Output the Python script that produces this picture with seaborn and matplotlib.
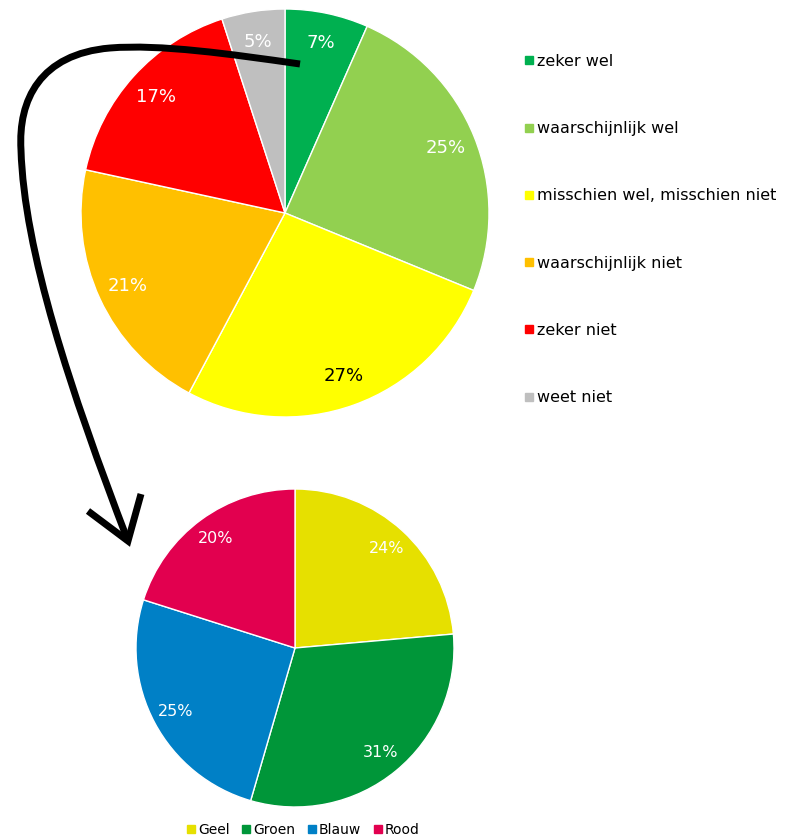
import matplotlib
matplotlib.use("Agg")
import matplotlib.pyplot as plt
from matplotlib.lines import Line2D
from matplotlib.path import Path
from matplotlib.patches import PathPatch
import seaborn as sns

# data: top pie (answers), bottom pie (colours)
answer_labels = ["zeker wel", "waarschijnlijk wel", "misschien wel, misschien niet",
                 "waarschijnlijk niet", "zeker niet", "weet niet"]
answer_values = [6.6, 24.6, 26.6, 20.6, 16.6, 5.0]
answer_colors = ["#00B050", "#92D050", "#FFFF00", "#FFC000", "#FF0000", "#BFBFBF"]

colour_labels = ["Geel", "Groen", "Blauw", "Rood"]
colour_values = [23.6, 30.9, 25.4, 20.1]
colour_colors = ["#E6E000", "#009639", "#0080C6", "#E2004F"]

sns.set_style("white")
plt.rcParams["font.family"] = ["DejaVu Sans"]
plt.rcParams["text.color"] = "black"

W, H = 787, 840
fig = plt.figure(figsize=(W / 100, H / 100), dpi=100)


def pie_axes(cx, cy, r):
    return fig.add_axes([(cx - r) / W, (H - cy - r) / H, 2 * r / W, 2 * r / H])


def draw_pie(ax, values, colors, fontsize, dist, dark=()):
    wedges, _, texts = ax.pie(values, colors=colors, startangle=90, counterclock=False,
                              autopct=lambda p: "{:.0f}%".format(p), pctdistance=dist,
                              wedgeprops=dict(edgecolor="white", linewidth=1),
                              textprops=dict(color="white", fontsize=fontsize))
    for i in dark:
        texts[i].set_color("black")
    ax.set_xlim(-1, 1)
    ax.set_ylim(-1, 1)
    ax.set_axis_off()
    return wedges


# top pie
ax1 = pie_axes(285, 213, 204)
draw_pie(ax1, answer_values, answer_colors, 13, 0.85, dark=(2,))

handles = [Line2D([], [], marker="s", linestyle="", color=c, markersize=6) for c in answer_colors]
fig.legend(handles, answer_labels, loc="upper left", bbox_to_anchor=(516 / W, 1 - 46 / H),
           frameon=False, fontsize=11.5, labelspacing=3.27, handlelength=0.6,
           handletextpad=0.2, borderpad=0, labelcolor="black")

# bottom pie
ax2 = pie_axes(295, 648, 159)
draw_pie(ax2, colour_values, colour_colors, 11.5, 0.85)

handles2 = [Line2D([], [], marker="s", linestyle="", color=c, markersize=5.5) for c in colour_colors]
fig.legend(handles2, colour_labels, loc="center", bbox_to_anchor=(303 / W, 1 - 830 / H),
           ncol=4, frameon=False, fontsize=10, handlelength=0.6, handletextpad=0.2,
           columnspacing=0.9, borderpad=0, labelcolor="black")

# hand-drawn arrow overlay (pixel coordinates)
over = fig.add_axes([0, 0, 1, 1], zorder=5)
over.set_xlim(0, W)
over.set_ylim(H, 0)
over.set_axis_off()
over.patch.set_alpha(0)
verts = [(300, 64),
         (230, 54), (160, 44), (110, 48),
         (40, 54), (18, 100), (21, 150),
         (24, 250), (70, 390), (128, 541)]
codes = [Path.MOVETO] + [Path.CURVE4] * 9
over.add_patch(PathPatch(Path(verts, codes), facecolor="none", edgecolor="black",
                         linewidth=5, capstyle="butt"))
over.plot([88, 128, 141], [511, 541, 494], color="black", linewidth=5,
          solid_joinstyle="miter", solid_capstyle="butt")

fig.savefig("out.png", dpi=100)
